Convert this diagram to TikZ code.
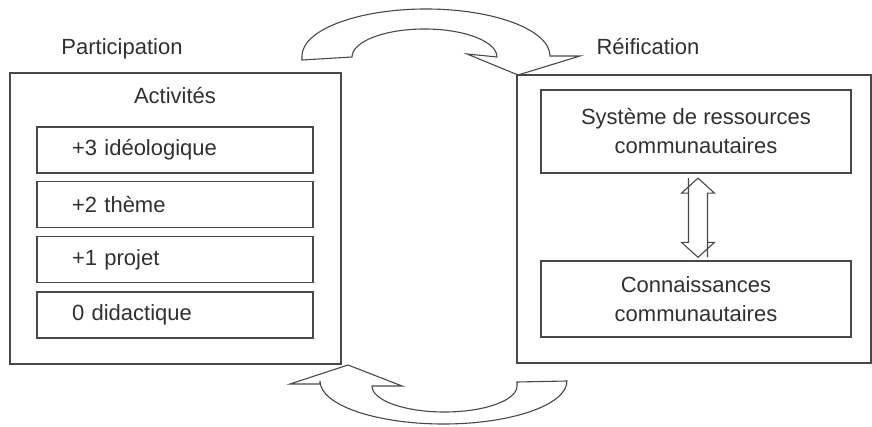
\documentclass[tikz,border=0pt]{standalone}
\usepackage{fontspec}
\setmainfont{Liberation Sans}
\usetikzlibrary{calc}
\definecolor{linegray}{HTML}{484848}
\definecolor{textgray}{HTML}{303030}
\begin{document}
\begin{tikzpicture}[x=1pt,y=1pt,
  every node/.style={text=textgray, font=\fontsize{22pt}{25pt}\selectfont},
  frame/.style={draw=linegray, line width=1.3pt, inner sep=0pt},
  levelbox/.style={frame, minimum width=276pt, minimum height=46pt,
    text width=206pt, inner xsep=35pt, align=left},
  itembox/.style={frame, align=center, font=\fontsize{22pt}{29pt}\selectfont},
  loop/.style={draw=linegray, line width=1.1pt, line join=miter},
  dbl/.style={draw=linegray, line width=1.1pt, fill=white}]
\useasboundingbox (0,0) rectangle (872,-427);

% Participation side
\node[anchor=base] (ptitle) at (122,-55) {Participation};
\node[frame, minimum width=331pt, minimum height=291pt] (part) at (175.5,-218.5) {};
\node[anchor=base] (act) at (175,-104) {Activités};
\node[levelbox] (l3) at (175,-150) {+3 idéologique};
\node[levelbox] (l2) at (175,-204.5) {+2 thème};
\node[levelbox] (l1) at (175,-259.5) {+1 projet};
\node[levelbox] (l0) at (175,-315) {0 didactique};

% Reification side
\node[anchor=base west] (rtitle) at (593,-55) {Réification};
\node[frame, minimum width=354pt, minimum height=288pt] (reif) at (694,-219) {};
\node[itembox, minimum width=310pt, minimum height=83pt] (res) at (696,-131.5)
  {Système de ressources\\communautaires};
\node[itembox, minimum width=310pt, minimum height=76pt] (know) at (696,-299)
  {Connaissances\\communautaires};

% two-way arrow between the two reified elements
\coordinate (dtop) at ($(res.south)+(2,-4.5)$);
\coordinate (dbot) at ($(know.north)+(2,3)$);
\path[dbl] (dtop) -- ++(16.5,-15) -- ++(-7,0) coordinate (sr)
  -- (sr |- dbot) -- ++(0,15) -- ++(7,0) -- (dbot)
  -- ++(-16.5,15) -- ++(7,0) coordinate (sl)
  -- (sl |- dtop) -- ++(0,-15) -- ++(-7,0) -- cycle;

% upper curved arrow: participation towards reification
\path[loop] (302,-60) -- (352,-57)
  arc[start angle=180, end angle=0, x radius=72.5pt, y radius=28pt]
  -- (467,-54) -- (518,-75) coordinate (utip) -- (580,-56) -- (550,-56)
  arc[start angle=0, end angle=180, x radius=124pt, y radius=47pt]
  -- cycle;

% lower curved arrow: reification back to participation
\path[loop] (348,-365) coordinate (ltip) -- (402,-386) -- (372,-386)
  arc[start angle=180, end angle=360, x radius=72.5pt, y radius=26pt]
  -- (517,-382) -- (567,-381)
  arc[start angle=0, end angle=-180, x radius=123.5pt, y radius=43pt]
  -- (320,-384) -- (290,-384) -- cycle;
\end{tikzpicture}
\end{document}
